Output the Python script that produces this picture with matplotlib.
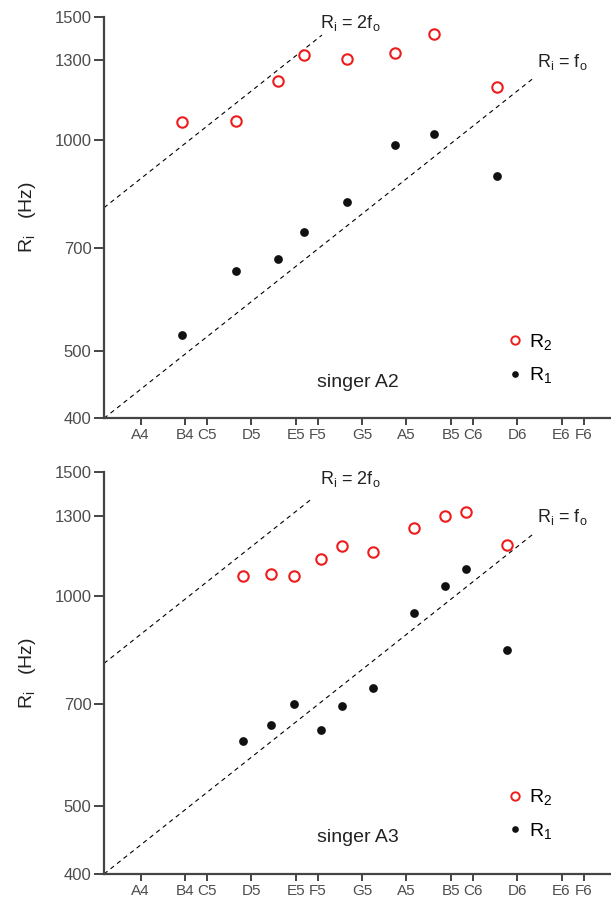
import numpy as np
import matplotlib
matplotlib.use('Agg')
import matplotlib.pyplot as plt
from matplotlib.lines import Line2D

plt.rcParams['font.family'] = ['Liberation Sans', 'DejaVu Sans']
plt.rcParams['mathtext.default'] = 'regular'

# note names on the x axis and their frequencies (Hz)
note_names = ['A4', 'B4', 'C5', 'D5', 'E5', 'F5', 'G5', 'A5', 'B5', 'C6', 'D6', 'E6', 'F6']
note_freqs = [440.0, 493.9, 523.3, 587.3, 659.3, 698.5, 784.0, 880.0, 987.8, 1046.5, 1174.7, 1318.5, 1396.9]

y_ticks = [400, 500, 700, 1000, 1300, 1500]

# singer A2
a2_f0 = [490, 565, 630, 673, 754, 855, 946, 1115]
a2_r2 = [1060, 1063, 1215, 1323, 1305, 1330, 1416, 1192]
a2_r1 = [527, 650, 676, 738, 816, 984, 1021, 887]

# singer A3
a3_f0 = [575, 618, 656, 704, 743, 806, 897, 972, 1027, 1145]
a3_r2 = [1066, 1074, 1068, 1128, 1179, 1156, 1248, 1301, 1316, 1181]
a3_r1 = [620, 653, 701, 642, 696, 737, 944, 1031, 1091, 836]

# extent of the guide lines R = f0 and R = 2 f0 (f0 range, Hz)
f0_line_1 = {'A2': (400, 1230), 'A3': (400, 1223)}
f0_line_2 = {'A2': (400, 706), 'A3': (400, 686)}

spine_col = '#444444'
label_col = '#4d4d4d'

fig = plt.figure(figsize=(6.11, 9.0), dpi=100)
ax_top = fig.add_axes([0.1702, 0.5352, 0.8298, 0.4462])
ax_bot = fig.add_axes([0.1702, 0.0289, 0.8298, 0.4462])

panels = [(ax_top, 'A2', a2_f0, a2_r1, a2_r2), (ax_bot, 'A3', a3_f0, a3_r1, a3_r2)]

for ax, name, f0, r1, r2 in panels:
    ax.set_xscale('log')
    ax.set_yscale('log')
    ax.set_xlim(400, 1500)
    ax.set_ylim(400, 1500)

    # guide lines
    x1 = np.array(f0_line_1[name], dtype=float)
    ax.plot(x1, x1, ls=(0, (4, 3.5)), color='black', lw=0.8)
    x2 = np.array(f0_line_2[name], dtype=float)
    ax.plot(x2, 2 * x2, ls=(0, (4, 3.5)), color='black', lw=0.8)

    ax.plot(f0, r2, 'o', ms=7.5, mfc='none', mec='#ee1c1c', mew=1.5, clip_on=False)
    ax.plot(f0, r1, 'o', ms=6.3, color='#111111', mec='none', clip_on=False)

    for s in ['top', 'right']:
        ax.spines[s].set_visible(False)
    for s in ['left', 'bottom']:
        ax.spines[s].set_color(spine_col)
        ax.spines[s].set_linewidth(1.6)

    ax.set_yticks(y_ticks)
    ax.set_yticklabels([str(v) for v in y_ticks])
    ax.yaxis.set_minor_locator(matplotlib.ticker.NullLocator())
    ax.set_xticks(note_freqs)
    ax.set_xticklabels(note_names)
    ax.xaxis.set_minor_locator(matplotlib.ticker.NullLocator())
    ax.tick_params(axis='y', direction='out', length=7, width=1.4, color=spine_col,
                   labelsize=12, labelcolor=label_col, pad=2)
    ax.tick_params(axis='x', direction='out', length=5, width=1.4, color=spine_col,
                   labelsize=11, labelcolor=label_col, pad=2)

    ax.set_ylabel(r'R$_{i}$   (Hz)', fontsize=14, color='#222222', labelpad=12)

    ax.text(0.426, 0.984, r'R$_{i}$ = 2f$_{o}$', transform=ax.transAxes,
            fontsize=13, color='#222222', ha='left', va='center')
    ax.text(0.854, 0.888, r'R$_{i}$ = f$_{o}$', transform=ax.transAxes,
            fontsize=13, color='#222222', ha='left', va='center')
    ax.text(0.42, 0.09, 'singer ' + name, transform=ax.transAxes,
            fontsize=14, color='#222222', ha='left', va='center')

    handles = [Line2D([], [], ls='none', marker='o', ms=6, mfc='none', mec='#ee1c1c', mew=1.4),
               Line2D([], [], ls='none', marker='o', ms=4.8, color='#111111', mec='none')]
    ax.legend(handles, [r'R$_{2}$', r'R$_{1}$'], loc='upper left',
              bbox_to_anchor=(0.78, 0.235), frameon=False, fontsize=14,
              handlelength=0.8, handletextpad=0.3, labelspacing=0.7,
              borderaxespad=0)

fig.savefig('out.png', dpi=100)
